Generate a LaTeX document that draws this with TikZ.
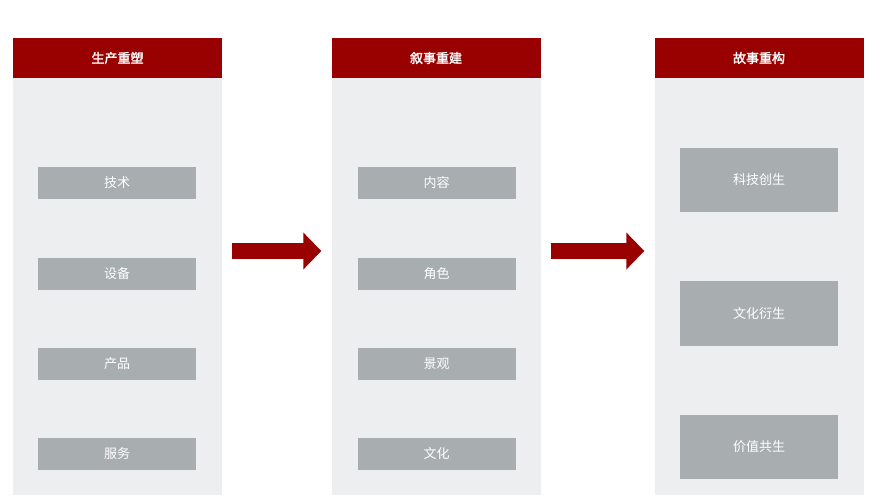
\documentclass[tikz,border=0pt]{standalone}
\usepackage{fontspec}
\setmainfont{Noto Sans CJK SC}[AutoFakeBold=2]
\usetikzlibrary{arrows.meta, positioning}
\definecolor{hdred}{HTML}{990000}
\definecolor{panelbg}{HTML}{EDEEF0}
\definecolor{boxgrey}{HTML}{A8ADB0}
\tikzset{
  panel/.style={fill=panelbg, minimum width=209pt, minimum height=457pt, inner sep=0pt},
  head/.style={fill=hdred, text=white, font=\bfseries\fontsize{13}{15}\selectfont, minimum width=209pt, minimum height=40pt, inner sep=0pt},
  item/.style={fill=boxgrey, text=white, font=\fontsize{13}{15}\selectfont, minimum width=158pt, minimum height=32pt, inner sep=0pt},
  bigitem/.style={item, minimum height=64pt},
  flow/.style={hdred, line width=16pt, shorten <=10pt, shorten >=10pt, -{Triangle[length=18pt,width=36pt]}}
}
\begin{document}
\begin{tikzpicture}[x=1pt,y=-1pt]
\useasboundingbox (0,0) rectangle (880,502);
%panels
\node[panel] (p1) at (117.5,266.5) {};
\node[panel] (p2) at (436,266.5) {};
\node[panel] (p3) at (759,266.5) {};
\node[head] (h1) at (117.5,58) {生产重塑};
\node[head] (h2) at (436,58) {叙事重建};
\node[head] (h3) at (759,58) {故事重构};

%items
\node[item] (a1) at (117,183) {技术};
\node[item] (a2) at (117,274) {设备};
\node[item] (a3) at (117,364) {产品};
\node[item] (a4) at (117,454) {服务};
\node[item] (b1) at (436.5,183) {内容};
\node[item] (b2) at (436.5,274) {角色};
\node[item] (b3) at (436.5,364) {景观};
\node[item] (b4) at (436.5,454) {文化};
\node[bigitem] (c1) at (759,180) {科技创生};
\node[bigitem] (c2) at (759,313.5) {文化衍生};
\node[bigitem] (c3) at (759,446.5) {价值共生};

%arrows
\draw[flow] (p1.east |- 0,251) -- (p2.west |- 0,251);
\draw[flow] (p2.east |- 0,251) -- (p3.west |- 0,251);
\end{tikzpicture}
\end{document}
